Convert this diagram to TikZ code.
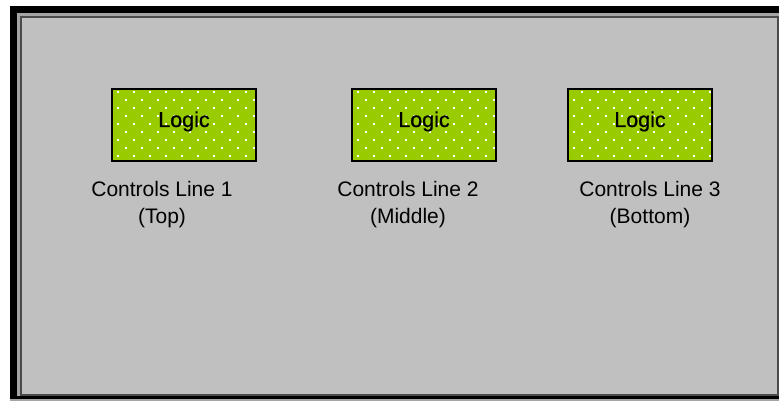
\documentclass[tikz,border=0pt]{standalone}
\usepackage{fontspec}
\setmainfont{Liberation Sans}
\newfontfamily\logicfont{Liberation Sans}[FakeBold=0.7]
\definecolor{panel}{HTML}{C0C0C0}
\definecolor{bevlight}{HTML}{A4A4A4}
\definecolor{bevdark}{HTML}{4A4A4A}
\definecolor{logicgreen}{HTML}{99CC00}
\tikzset{
  logicbox/.style={draw=black, line width=2pt, minimum width=144pt, minimum height=72pt, inner sep=0pt, font=\logicfont\fontsize{21.5}{26}\selectfont},
  lbl/.style={align=center, inner sep=0pt, anchor=base, font=\fontsize{21}{27}\selectfont},
}
\newcommand\greenfield[1]{%
  \fill[logicgreen] (#1,89) rectangle ++(144,72);
  \begin{scope}
    \clip (#1,89) rectangle ++(144,72);
    \foreach \j in {0,...,4} {
      \foreach \i in {-1,...,9} {
        \fill[white] ({#1-mod(#1,16)+6+16*\i-1},{92+16*\j-1}) rectangle ++(2,2);
      }
    }
    \foreach \j in {0,...,3} {
      \foreach \i in {-1,...,9} {
        \fill[white] ({#1-mod(#1,16)+14+16*\i-1},{100+16*\j-1}) rectangle ++(2,2);
      }
    }
  \end{scope}}
\begin{document}
\begin{tikzpicture}[x=1pt,y=-1pt]
\useasboundingbox (0,0) rectangle (779,403);
\fill[white] (0,0) rectangle (779,403);
% frame
\fill[black] (10,6) rectangle (779,399);
\fill[bevlight] (10,399) rectangle (779,401);
\fill[bevlight] (17,13) rectangle (779,396);
\fill[bevdark] (20,16) rectangle (779,396);
\fill[panel] (22,18) rectangle (777,394);
% patterned fills
\greenfield{112}
\greenfield{352}
\greenfield{568}
% boxes
\node[logicbox] (b1) at (184,125) {\raisebox{-2pt}[0pt][0pt]{Logic}};
\node[logicbox] (b2) at (424,125) {\raisebox{-2pt}[0pt][0pt]{Logic}};
\node[logicbox] (b3) at (640,125) {\raisebox{-2pt}[0pt][0pt]{Logic}};
% labels
\node[lbl] (l1) at (162,224) {Controls Line 1\\(Top)};
\node[lbl] (l2) at (408,224) {Controls Line 2\\(Middle)};
\node[lbl] (l3) at (650,224) {Controls Line 3\\(Bottom)};
\end{tikzpicture}
\end{document}
